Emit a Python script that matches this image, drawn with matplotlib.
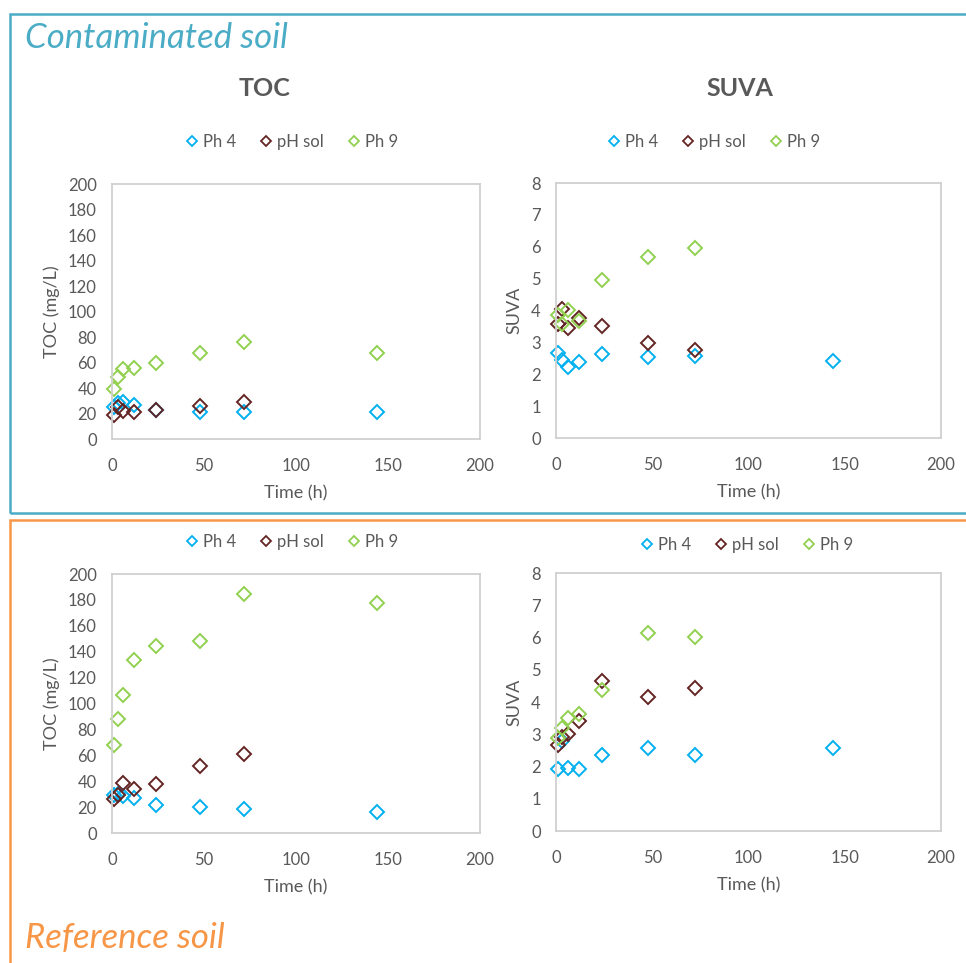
import matplotlib.pyplot as plt
from matplotlib.patches import Rectangle
from matplotlib.lines import Line2D

plt.rcParams['font.family'] = ['Lato', 'DejaVu Sans']

# sampling times (h)
t = [1, 3, 6, 12, 24, 48, 72, 144]
t7 = t[:7]

# contaminated soil
toc_c_ph4 = [25, 28, 28.8, 27, 22.5, 21, 21, 21.5]
toc_c_sol = [19, 25, 22, 21, 22.7, 26, 29]
toc_c_ph9 = [39, 49, 55, 55.4, 59.4, 67.7, 75.8, 67.7]
suva_c_ph4 = [2.66, 2.45, 2.24, 2.37, 2.63, 2.53, 2.58, 2.43]
suva_c_sol = [3.58, 4.04, 3.44, 3.78, 3.5, 2.97, 2.76]
suva_c_ph9 = [3.87, 3.57, 4.03, 3.68, 4.95, 5.68, 5.96]

# reference soil
toc_r_ph4 = [29, 30.4, 28.6, 27, 22, 20.1, 18.6, 16.2]
toc_r_sol = [26.6, 29, 38.7, 34.3, 38.2, 51.6, 60.9]
toc_r_ph9 = [67.8, 88.4, 106.4, 133.5, 144.4, 148.3, 184.3, 177.9]
suva_r_ph4 = [1.93, 2.8, 1.95, 1.93, 2.35, 2.56, 2.37, 2.56]
suva_r_sol = [2.66, 2.92, 3.0, 3.41, 4.65, 4.16, 4.42]
suva_r_ph9 = [2.87, 3.18, 3.49, 3.62, 4.36, 6.15, 6.02]

series_names = ['Ph 4', 'pH sol', 'Ph 9']
colors = ['#00B0F0', '#632523', '#92D050']
grey = '#595959'

fig = plt.figure(figsize=(9.66, 9.63), dpi=100)

W, H = 966.0, 963.0


def box(x0, y0, x1, y1):
    return [x0 / W, 1 - y1 / H, (x1 - x0) / W, (y1 - y0) / H]


def panel(rect, data, ymax, ystep, ylabel, legend_xy):
    ax = fig.add_axes(rect)
    for (xs, ys), c, name in zip(data, colors, series_names):
        ax.plot(xs, ys, linestyle='none', marker='D', ms=7.2, mfc='none',
                mec=c, mew=1.4, label=name, clip_on=False)
    ax.set_xlim(0, 200)
    ax.set_ylim(0, ymax)
    ax.set_xticks(range(0, 201, 50))
    ax.set_yticks([v * ystep for v in range(int(ymax / ystep) + 1)])
    ax.tick_params(length=0, labelsize=12, colors=grey)
    ax.tick_params(axis='x', pad=14)
    ax.tick_params(axis='y', pad=11)
    for s in ax.spines.values():
        s.set_color('#D0D0D0')
        s.set_linewidth(1.3)
    ax.set_xlabel('Time (h)', fontsize=13, color=grey, labelpad=8)
    ax.set_ylabel(ylabel, fontsize=13, color=grey, labelpad=6)
    handles = [Line2D([], [], linestyle='none', marker='D', ms=5.5, mfc='none',
                      mec=c, mew=1.3) for c in colors]
    fig.legend(handles, series_names, loc='center',
               bbox_to_anchor=(legend_xy[0] / W, 1 - legend_xy[1] / H),
               ncol=3, frameon=False, fontsize=12, handletextpad=0.05,
               handlelength=1.2, columnspacing=1.2, labelcolor=grey)
    return ax


panel(box(112, 184, 480, 439),
      [(t, toc_c_ph4), (t7, toc_c_sol), (t, toc_c_ph9)],
      200, 20, 'TOC (mg/L)', (290, 142))
panel(box(556, 183, 941, 438),
      [(t, suva_c_ph4), (t7, suva_c_sol), (t7, suva_c_ph9)],
      8, 1, 'SUVA', (712, 142))
panel(box(112, 574, 480, 833),
      [(t, toc_r_ph4), (t7, toc_r_sol), (t, toc_r_ph9)],
      200, 20, 'TOC (mg/L)', (290, 542))
panel(box(556, 573, 941, 831),
      [(t, suva_r_ph4), (t7, suva_r_sol), (t7, suva_r_ph9)],
      8, 1, 'SUVA', (745, 545))

fig.text(265 / W, 1 - 88 / H, 'TOC', ha='center', va='center',
         fontsize=18, fontweight='bold', color=grey)
fig.text(740 / W, 1 - 88 / H, 'SUVA', ha='center', va='center',
         fontsize=18, fontweight='bold', color=grey)

# frames around the two groups
fig.add_artist(Rectangle((10 / W, 1 - 513 / H), 1.2, (513 - 14) / H,
                         transform=fig.transFigure, fill=False,
                         edgecolor='#4BACC6', linewidth=1.8, clip_on=False))
fig.add_artist(Rectangle((10 / W, -0.2), 1.2, 0.2 + (963 - 520) / H,
                         transform=fig.transFigure, fill=False,
                         edgecolor='#F79646', linewidth=1.8, clip_on=False))

fig.text(25 / W, 1 - 38 / H, 'Contaminated soil', ha='left', va='center',
         fontsize=25, style='italic', color='#4BACC6')
fig.text(25 / W, 1 - 938 / H, 'Reference soil', ha='left', va='center',
         fontsize=25, style='italic', color='#F79646')

fig.savefig('out.png', dpi=100)
